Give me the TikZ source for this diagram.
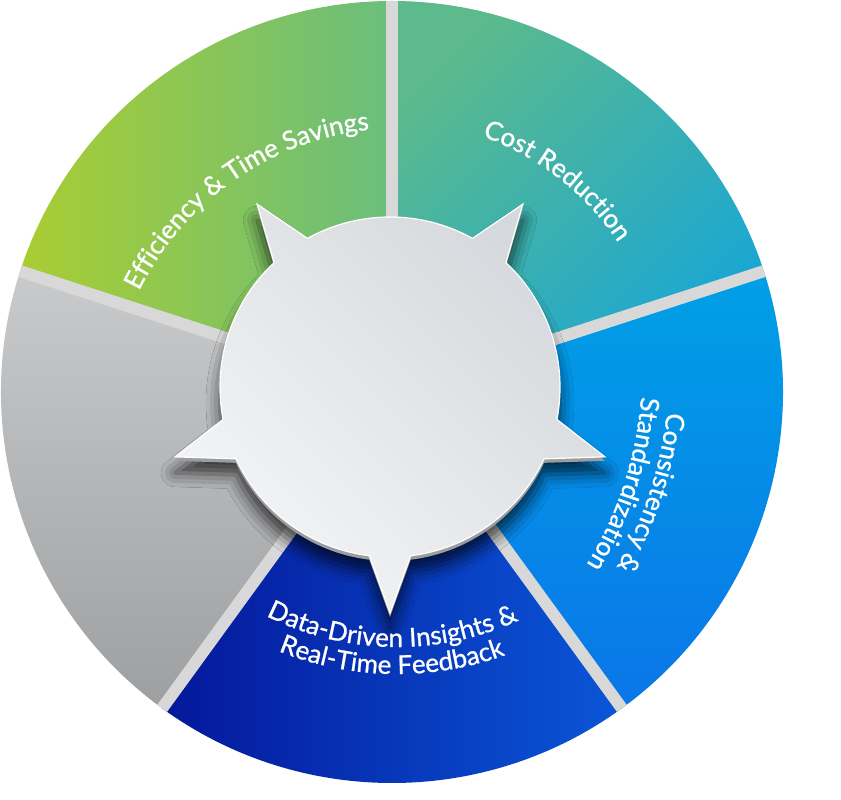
\documentclass[tikz,border=0pt]{standalone}
\usepackage{fontspec}
\setmainfont{Lato}
\newfontfamily\lblface{Lato}[FakeBold=0.9]
\usetikzlibrary{calc,decorations.text,shadows.blur}
\definecolor{gapgray}{HTML}{D8D8D9}
\definecolor{costA}{HTML}{5CBA8C}
\definecolor{costB}{HTML}{18A6D6}
\definecolor{consA}{HTML}{00A0E6}
\definecolor{consB}{HTML}{0A76E8}
\definecolor{dataA}{HTML}{05179A}
\definecolor{dataB}{HTML}{0A56D8}
\definecolor{grayA}{HTML}{C9CACC}
\definecolor{grayB}{HTML}{9E9FA1}
\definecolor{effA}{HTML}{A9CD32}
\definecolor{effB}{HTML}{6ABE7D}
\definecolor{badgeA}{HTML}{F4F5F6}
\definecolor{badgeB}{HTML}{D5D8DC}
\definecolor{rimgray}{HTML}{9C9DA0}
\newcommand\lblfont{\lblface\fontsize{26}{30}\selectfont\color{white}}
\newcommand\badgepath{(-83:170) arc (-83:-25:170) -- (-18:226) -- (-11:170) arc (-11:47:170) -- (54:226) -- (61:170) arc (61:119:170) -- (126:226) -- (133:170) arc (133:191:170) -- (198:226) -- (205:170) arc (205:263:170) -- (270:226) -- cycle}
\begin{document}
\begin{tikzpicture}[x=1pt,y=1pt]
	\tikzset{gapline/.style = {draw=gapgray, line width=12pt}}
	\tikzset{arclabel/.style = {decorate, decoration={text along path, text align=center, text={|\lblfont|#1}}}}
	\useasboundingbox (-392,-408) rectangle (449,392);
	% sectors
	\shade[left color=costA, right color=costB, shading angle=45] (0,0) -- (90:391) arc (90:18:391) -- cycle;
	\shade[top color=consA, bottom color=consB] (0,0) -- (18:391) arc (18:-54:391) -- cycle;
	\shade[left color=dataA, right color=dataB] (0,0) -- (-54:391) arc (-54:-126:391) -- cycle;
	\shade[top color=grayA, bottom color=grayB] (0,0) -- (-126:391) arc (-126:-198:391) -- cycle;
	\shade[left color=effA, right color=effB] (0,0) -- (162:391) arc (162:90:391) -- cycle;
	\foreach \a in {90,18,-54,-126,162}
		\draw[gapline] (0,0) -- (\a:391);
	% centre badge
	\begin{scope}[shift={(-2,5)}]
		\fill[rimgray, blur shadow={shadow xshift=0pt, shadow yshift=-12pt, shadow blur radius=14pt, shadow opacity=70}] [yshift=-4] \badgepath;
		\shade[left color=badgeA, right color=badgeB, shading angle=135] \badgepath;
		\draw[white, line width=1.2pt] \badgepath;
	\end{scope}
	% labels
	\path[arclabel={Efficiency {\&} Time Savings}] ($(9,-28)+(165:292)$) arc (165:85:292);
	\path[arclabel={Cost Reduction}] (87:271) arc (87:17:271);
	\path[arclabel={Consistency {\&}}] ($(-119,22)+(10:396)$) arc (10:-46:396);
	\path[arclabel={Standardization}] ($(-119,22)+(10:369)$) arc (10:-46:369);
	\path[arclabel={Data-Driven Insights {\&}}] ($(5,35)+(-135:290)$) arc (-135:-47:290);
	\path[arclabel={Real-Time Feedback}] ($(5,35)+(-135:317)$) arc (-135:-47:317);
\end{tikzpicture}
\end{document}
